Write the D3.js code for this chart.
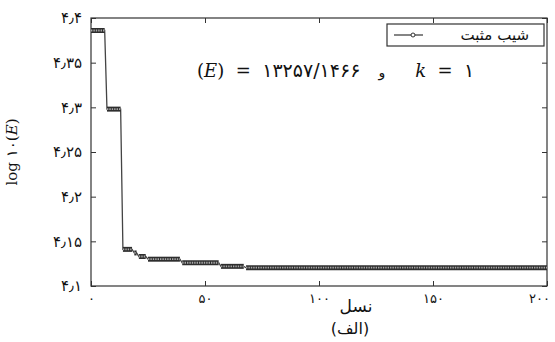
<!DOCTYPE html>
<html>
<head>
<meta charset="utf-8">
<script src="https://cdn.jsdelivr.net/npm/d3@7"></script>
<style>
  html, body { margin: 0; padding: 0; background: #fff; }
  svg { display: block; }
</style>
</head>
<body>
<div id="chart"></div>
<script>
// نمودار همگرایی: log10(E) بر حسب نسل، شیب مثبت، k = 1
// هر پله: نسلی که سطح از آن شروع می‌شود و مقدار آن سطح
const stepGens = [0, 7, 14, 19, 21, 25, 40, 57, 68];
const stepVals = [4.386, 4.298, 4.141, 4.137, 4.133, 4.130, 4.126, 4.122, 4.1205];
const lastGen = 200;

const xTicks = [0, 50, 100, 150, 200];
const xTickLabels = ['۰', '۵۰', '۱۰۰', '۱۵۰', '۲۰۰'];
const yTicks = [4.1, 4.15, 4.2, 4.25, 4.3, 4.35, 4.4];
const yTickLabels = ['۴٫۱', '۴٫۱۵', '۴٫۲', '۴٫۲۵', '۴٫۳', '۴٫۳۵', '۴٫۴'];

const legendLabel = 'شیب مثبت';
const xLabel = 'نسل';
const caption = '(الف)';

const width = 555, height = 342;
const margin = { top: 18, right: 8, bottom: 56, left: 91 };
const W = width - margin.left - margin.right;
const H = height - margin.top - margin.bottom;
const INK = '#333';

const x = d3.scaleLinear().domain([0, 200]).range([0, W]);
const y = d3.scaleLinear().domain([4.1, 4.4]).range([H, 0]);

const svg = d3.select('#chart').append('svg')
  .attr('width', width).attr('height', height)
  .style('font-family', '"DejaVu Sans", sans-serif');

const g = svg.append('g').attr('transform', `translate(${margin.left},${margin.top})`);

// ejes con marcas hacia dentro, en los cuatro lados
function styleAxis(sel, size) {
  sel.select('.domain').remove();
  sel.selectAll('line').attr('stroke', INK).attr('stroke-width', 1);
  sel.selectAll('text').attr('fill', '#111').attr('font-size', size || '14px')
    .attr('letter-spacing', '1px')
    .attr('font-family', '"DejaVu Sans", sans-serif');
}

const xAxisG = g.append('g').attr('transform', `translate(0,${H})`)
  .call(d3.axisBottom(x).tickValues(xTicks).tickSize(-5).tickPadding(8)
    .tickFormat((d, i) => xTickLabels[i]))
  .call(styleAxis, '13px');
// el ultimo rotulo queda dentro del lienzo
xAxisG.selectAll('.tick text').filter(d => d === 200).attr('dx', -8);

g.append('g')
  .call(d3.axisTop(x).tickValues(xTicks).tickSize(-5).tickFormat(''))
  .call(styleAxis);
g.append('g')
  .call(d3.axisLeft(y).tickValues(yTicks).tickSize(-5).tickPadding(9)
    .tickFormat((d, i) => yTickLabels[i]))
  .call(styleAxis, '15px');
g.append('g').attr('transform', `translate(${W},0)`)
  .call(d3.axisRight(y).tickValues(yTicks).tickSize(-5).tickFormat(''))
  .call(styleAxis);

// marco
g.append('rect').attr('width', W).attr('height', H)
  .attr('fill', 'none').attr('stroke', INK).attr('stroke-width', 1.2);

// la serie escalonada: polilinea por los puntos de cambio
const pts = [];
stepGens.forEach((s, i) => {
  const e = i < stepGens.length - 1 ? stepGens[i + 1] - 1 : lastGen;
  pts.push([s, stepVals[i]]);
  pts.push([e, stepVals[i]]);
});
const line = d3.line().x(d => x(d[0])).y(d => y(d[1]));

g.append('path').datum(pts)
  .attr('fill', 'none').attr('stroke', '#444').attr('stroke-width', 1.3)
  .attr('d', line);

// tramos horizontales con aspecto de marcadores encadenados
stepGens.forEach((s, i) => {
  const e = i < stepGens.length - 1 ? stepGens[i + 1] - 1 : lastGen;
  const seg = [[s, stepVals[i]], [e, stepVals[i]]];
  g.append('path').datum(seg)
    .attr('fill', 'none').attr('stroke', '#2e2e2e').attr('stroke-width', 5)
    .attr('d', line);
  g.append('path').datum(seg)
    .attr('fill', 'none').attr('stroke', '#a8a8a8').attr('stroke-width', 1.8)
    .attr('stroke-dasharray', '1.4 1')
    .attr('d', line);
});

// leyenda
const lg = g.append('g').attr('transform', `translate(${W - 160},6)`);
lg.append('rect').attr('width', 157).attr('height', 22)
  .attr('fill', '#fff').attr('stroke', INK).attr('stroke-width', 1.2);
lg.append('line').attr('x1', 7).attr('x2', 36).attr('y1', 11).attr('y2', 11)
  .attr('stroke', INK).attr('stroke-width', 1.2);
lg.append('circle').attr('cx', 26).attr('cy', 11).attr('r', 2)
  .attr('fill', '#fff').attr('stroke', INK).attr('stroke-width', 1);
lg.append('text').attr('x', 142).attr('y', 16).attr('text-anchor', 'end')
  .attr('font-size', '15px').attr('fill', '#111').text(legendLabel);

// anotacion
const note = g.append('text').attr('x', 106).attr('y', 59)
  .attr('font-size', '18px').attr('fill', '#111')
  .attr('font-family', '"DejaVu Serif", serif')
  .attr('xml:space', 'preserve');
note.append('tspan').text('(');
note.append('tspan').attr('font-style', 'italic').text('E');
note.append('tspan').text(')  =  ');
note.append('tspan').attr('font-family', '"DejaVu Sans", sans-serif')
  .attr('font-size', '19px').attr('letter-spacing', '4.5px').text('۱۳۲۵۷/۱۴۶۶');
note.append('tspan').attr('dx', 18).attr('font-family', '"DejaVu Sans", sans-serif')
  .attr('font-size', '14px').text('و');
note.append('tspan').attr('dx', 30).attr('font-style', 'italic').text('k');
note.append('tspan').text('  =  ');
note.append('tspan').attr('font-family', '"DejaVu Sans", sans-serif')
  .attr('font-size', '19px').text('۱');

// etiquetas de ejes
const yl = svg.append('text')
  .attr('transform', `translate(17,${margin.top + H / 2}) rotate(-90)`)
  .attr('text-anchor', 'middle').attr('font-size', '15px').attr('fill', '#111')
  .attr('font-family', '"DejaVu Serif", serif')
  .attr('xml:space', 'preserve');
yl.append('tspan').text('log ');
yl.append('tspan').attr('font-family', '"DejaVu Sans", sans-serif').text('۱۰');
yl.append('tspan').text('(');
yl.append('tspan').attr('font-style', 'italic').text('E');
yl.append('tspan').text(')');

svg.append('text').attr('x', 356).attr('y', 312).attr('text-anchor', 'middle')
  .attr('font-size', '17px').attr('fill', '#111').text(xLabel);
svg.append('text').attr('x', 350).attr('y', 334).attr('text-anchor', 'middle')
  .attr('font-size', '16px').attr('fill', '#111').text(caption);
</script>
</body>
</html>
